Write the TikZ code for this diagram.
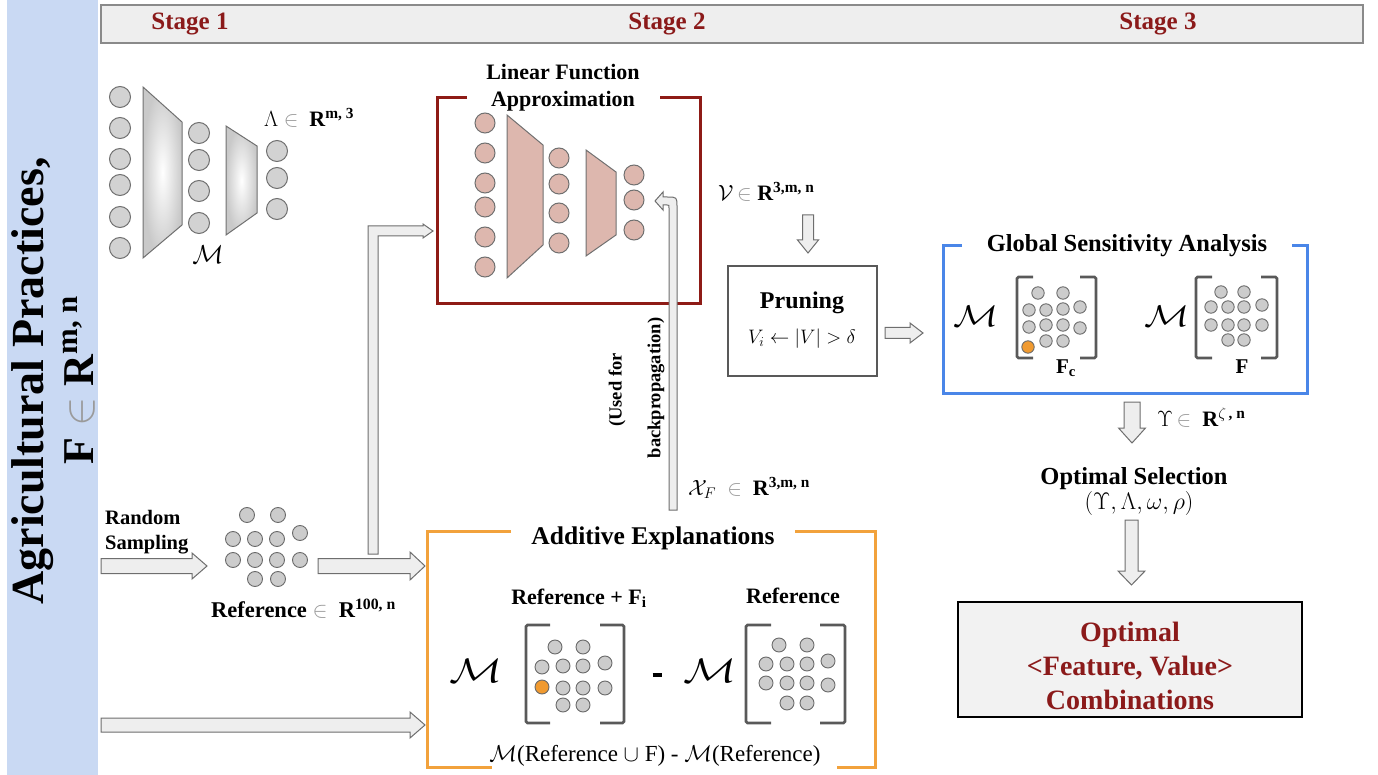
\RequirePackage{fix-cm}
\documentclass[tikz,border=0pt]{standalone}
\usepackage{fontspec}
\setmainfont{Liberation Serif}
\usepackage{graphicx}

\definecolor{sidebar}{HTML}{C9D9F3}
\definecolor{stagered}{HTML}{8B1A1A}
\definecolor{lfared}{HTML}{8E1B16}
\definecolor{gsablue}{HTML}{4A86E8}
\definecolor{aeorange}{HTML}{F2A23C}
\definecolor{dotgray}{HTML}{CCCCCC}
\definecolor{dotedge}{HTML}{6A6A6A}
\definecolor{dotorange}{HTML}{F09A30}
\definecolor{netgray}{HTML}{D2D2D2}
\definecolor{netedge}{HTML}{707070}
\definecolor{pinkfill}{HTML}{DDB7AE}
\definecolor{arrowfill}{HTML}{EEEEEE}
\definecolor{arrowedge}{HTML}{6E6E6E}
\definecolor{bracketgray}{HTML}{595959}
\definecolor{headerfill}{HTML}{EEEEEE}
\definecolor{headeredge}{HTML}{8A8A8A}
\definecolor{boxgray}{HTML}{F2F2F2}
\definecolor{elemgray}{HTML}{9A9A9A}

\newcommand\fsz[2]{\fontsize{#1}{#2}\selectfont}
\newcommand\calM[1]{\scalebox{#1}[1]{$\mathcal{M}$}}
\newcommand\elem{{\color{elemgray}$\in$}}

% block arrow pointing right: x start, x tip, y centre, half shaft, half head, head length
\newcommand\rarrow[6]{\draw[blk] ({#1},{#3-#4}) -- ({#2-#6},{#3-#4}) -- ({#2-#6},{#3-#5}) -- ({#2},{#3})
  -- ({#2-#6},{#3+#5}) -- ({#2-#6},{#3+#4}) -- ({#1},{#3+#4}) -- cycle;}
% block arrow pointing down: x centre, y start, y tip, half shaft, half head, head length
\newcommand\darrow[6]{\draw[blk] ({#1-#4},{#2}) -- ({#1-#4},{#3-#6}) -- ({#1-#5},{#3-#6}) -- ({#1},{#3})
  -- ({#1+#5},{#3-#6}) -- ({#1+#4},{#3-#6}) -- ({#1+#4},{#2}) -- cycle;}
% pair of square brackets: x left, x right, y top, y bottom, arm length
\newcommand\bracketpair[5]{%
  \draw[brk] ({#1+#5},{#3}) -- ({#1},{#3}) -- ({#1},{#4}) -- ({#1+#5},{#4});
  \draw[brk] ({#2-#5},{#3}) -- ({#2},{#3}) -- ({#2},{#4}) -- ({#2-#5},{#4});}

\begin{document}
\begin{tikzpicture}[x=1pt, y=-1pt,
  blk/.style={fill=arrowfill, draw=arrowedge, line width=1, line join=miter},
  brk/.style={draw=bracketgray, line width=2.6, rounded corners=1.5},
  gdot/.style={fill=dotgray, draw=dotedge, line width=0.9},
  odot/.style={fill=dotorange, draw=dotedge, line width=0.9},
  gnet/.style={fill=netgray, draw=netedge, line width=1},
  pnet/.style={fill=pinkfill, draw=netedge, line width=1},
  gtrap/.style={inner color=white, outer color=gray!42, draw=netedge, line width=1},
  stagelbl/.style={inner sep=0, text=stagered, font=\bfseries\fsz{25}{28}},
  title/.style={inner sep=0, align=center, font=\bfseries\fsz{24}{28}},
  mlabel/.style={inner sep=0, anchor=west, font=\bfseries\fsz{22}{26}},
  frame/.style={line width=3, line cap=butt, line join=miter}
]
\useasboundingbox (0,0) rectangle (1378,775);

% ---------- side band ----------
\fill[sidebar] (7,0) rectangle (98,775);
\node[rotate=90, inner sep=0, font=\bfseries\fsz{46}{46}] (sidetitle) at (33,381) {Agricultural Practices,};
\node[rotate=90, inner sep=0, font=\bfseries\fsz{44}{46}] (sideset) at (79,380) {F \elem\ R\textsuperscript{m, n}};

% ---------- stage header ----------
\draw[fill=headerfill, draw=headeredge, line width=1.5] (101,5) rectangle (1363,43);
\node[stagelbl] (stage1) at (190,24) {Stage 1};
\node[stagelbl] (stage2) at (667,24) {Stage 2};
\node[stagelbl] (stage3) at (1158,24) {Stage 3};

% ---------- trained model M ----------
\foreach \y in {97,128,159,185,217,248} \path[gnet] (120,\y) circle[radius=10.5];
\shadedraw[gtrap] (143,87) -- (182,122) -- (182,225) -- (143,258) -- cycle;
\foreach \y in {133,160,191,223} \path[gnet] (199,\y) circle[radius=10.5];
\shadedraw[gtrap] (226,126) -- (257,146) -- (257,213) -- (226,235) -- cycle;
\foreach \y in {151,178,209} \path[gnet] (277,\y) circle[radius=10.5];
\node[inner sep=0, font=\fsz{26}{28}] (modelM) at (208,255) {$\mathcal{M}$};
\node[mlabel] (lambdalbl) at (264,118) {$\Lambda$\ \elem\ \ R\textsuperscript{m, 3}};

% ---------- linear function approximation ----------
\draw[frame, lfared] (467,98) -- (437,98) -- (437,304) -- (700,304) -- (700,98) -- (660,98);
\node[title, font=\bfseries\fsz{22}{27}] (lfatitle) at (563,88) {Linear Function\\Approximation};
\foreach \y in {123,153,183,207,237,267} \path[pnet] (485,\y) circle[radius=10];
\path[pnet] (507,115) -- (543,145) -- (543,245) -- (507,278) -- cycle;
\foreach \y in {158,184,213,243} \path[pnet] (559,\y) circle[radius=10];
\path[pnet] (586,150) -- (616,172) -- (616,235) -- (586,256) -- cycle;
\foreach \y in {175,200,230} \path[pnet] (634,\y) circle[radius=10];

% backpropagation feedback arrow
\draw[blk] (677,510) -- (677,207) .. controls (677,197) .. (667,197) -- (663,197) -- (663,192)
  -- (655,201) -- (663,210) -- (663,205) -- (667,205) .. controls (669,205) .. (669,208) -- (669,510) -- cycle;
\node[rotate=90, inner sep=0, font=\bfseries\fsz{18.5}{22}] (usedfor) at (617,390) {(Used for};
\node[rotate=90, inner sep=0, font=\bfseries\fsz{18.5}{22}] (backprop) at (656,388) {backpropagation)};
\node[mlabel] (xlbl) at (688,488) {$\mathcal{X}_F$\ \ \elem\ \ R\textsuperscript{3,m, n}};

% ---------- pruning ----------
\node[mlabel] (vlbl) at (718,192) {$\mathcal{V}$\,\elem\ R\textsuperscript{3,m, n}};
\darrow{808}{215}{253}{5.5}{10.5}{13}
\node[draw=bracketgray, line width=2, minimum width=149, minimum height=110, inner sep=0] (prune) at (802.5,321) {};
\node[inner sep=0, font=\bfseries\fsz{24}{28}] (prunetitle) at (802,303) {Pruning};
\node[inner sep=0, font=\fsz{19.5}{22}] (pruneeq) at (802,339) {$V_i \leftarrow |V| > \delta$};
\rarrow{885}{923}{333}{5.5}{10}{13}

% ---------- global sensitivity analysis ----------
\draw[frame, gsablue] (962,246) -- (943,246) -- (943,393) -- (1307,393) -- (1307,246) -- (1292,246);
\node[title, font=\bfseries\fsz{24.5}{28}] (gsatitle) at (1127,246) {Global Sensitivity Analysis};
\node[inner sep=0, font=\fsz{30}{32}] (gsaM1) at (976,316) {\calM{1.25}};
\bracketpair{1017}{1096}{277}{358}{16}
\foreach \x/\y in {1038/293,1063/293,1029/310,1046/310,1063/309,1080/307,1029/327,1046/325,1063/325,1080/328,1046/341,1063/341}
  \path[gdot] (\x,\y) circle[radius=6.2];
\path[odot] (1028,347) circle[radius=6.2];
\node[inner sep=0, font=\bfseries\fsz{21}{24}] (fclbl) at (1066,368) {F\textsubscript{c}};
\node[inner sep=0, font=\fsz{30}{32}] (gsaM2) at (1167,316) {\calM{1.25}};
\bracketpair{1196}{1277}{277}{358}{16}
\foreach \x/\y in {1221/292,1244/292,1211/307,1228/307,1244/307,1262/305,1211/325,1228/325,1244/325,1262/325,1228/340,1244/340}
  \path[gdot] (\x,\y) circle[radius=6.2];
\node[inner sep=0, font=\bfseries\fsz{21}{24}] (flbl) at (1242,367) {F};

% ---------- optimal selection ----------
\darrow{1132}{402}{443}{8}{13.5}{15}
\node[mlabel] (upslbl) at (1157,418) {$\Upsilon$\,\elem\ \ R\textsuperscript{$\zeta$\,, n}};
\node[inner sep=0, font=\bfseries\fsz{24.5}{28}] (optsel) at (1134,479) {Optimal Selection};
\node[inner sep=0, font=\fsz{24}{26}] (optargs) at (1139,503) {$(\Upsilon, \Lambda, \omega, \rho)$};
\darrow{1131.5}{520}{585}{6.5}{13.5}{14}
\node[draw=black, fill=boxgray, line width=2.5, minimum width=344, minimum height=115, inner sep=0] (optbox) at (1130,659.5) {};
\node[inner sep=0, align=center, text=stagered, font=\bfseries\fsz{28}{34}] (opttext) at (1130,666)
  {Optimal\\\textless Feature, Value\textgreater\\Combinations};

% ---------- reference sampling ----------
\node[inner sep=0, anchor=west, align=left, font=\bfseries\fsz{20.5}{25}] (randsamp) at (105,532) {Random\\Sampling};
\rarrow{101}{207}{566}{7.5}{13}{15}
\foreach \x/\y in {247/515,278/515,233/539,255/539,277/539,300/533,233/560,255/560,277/560,300/560,255/579,278/579}
  \path[gdot] (\x,\y) circle[radius=7.5];
\node[mlabel, font=\bfseries\fsz{22.5}{26}] (reflbl) at (211,609) {Reference\ \elem\ \ R\textsuperscript{100, n}};
\rarrow{318}{425}{566}{7.5}{14}{15}
\draw[blk] (368,554) -- (368,226) -- (423,226) -- (423,224) -- (433,231) -- (423,238) -- (423,236) -- (378,236) -- (378,554) -- cycle;
\rarrow{101}{425}{725}{7}{13}{15}

% ---------- additive explanations ----------
\draw[frame, aeorange] (511,531) -- (427,531) -- (427,767) -- (492,767);
\draw[frame, aeorange] (795,531) -- (875,531) -- (875,767) -- (837,767);
\node[title, font=\bfseries\fsz{25.5}{28}] (aetitle) at (653,538) {Additive Explanations};
\node[inner sep=0, font=\bfseries\fsz{22}{26}] (reffi) at (579,598) {Reference + F\textsubscript{i}};
\node[inner sep=0, font=\bfseries\fsz{22}{26}] (refonly) at (793,596) {Reference};
\node[inner sep=0, font=\fsz{34}{36}] (aeM1) at (476,671) {\calM{1.3}};
\bracketpair{526}{624}{625}{723}{24}
\foreach \x/\y in {555/647,583/647,542/667,563/666,583/666,605/663,563/688,583/688,605/688,563/705,583/705}
  \path[gdot] (\x,\y) circle[radius=7];
\path[odot] (542,687) circle[radius=7];
\node[inner sep=0] (minus) at (657,675) {\rule{9pt}{4.5pt}};
\node[inner sep=0, font=\fsz{34}{36}] (aeM2) at (710,671) {\calM{1.3}};
\bracketpair{746}{845}{625}{723}{25}
\foreach \x/\y in {779/645,807/645,766/664,787/664,807/664,828/661,766/683,787/683,807/683,828/685,787/703,807/703}
  \path[gdot] (\x,\y) circle[radius=7];
\node[inner sep=0, font=\fsz{23}{26}] (aeformula) at (655,756)
  {$\mathcal{M}$(Reference $\cup$ F) - $\mathcal{M}$(Reference)};
\end{tikzpicture}
\end{document}
